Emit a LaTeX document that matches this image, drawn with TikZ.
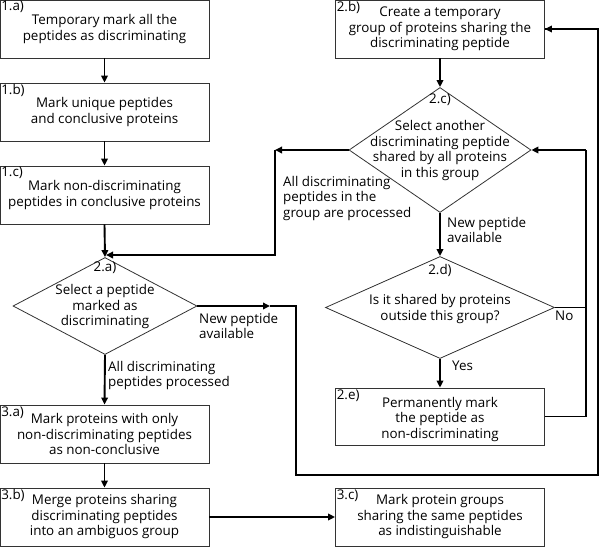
\documentclass[tikz,border=0pt]{standalone}
\usepackage{fontspec}
\setmainfont{Open Sans}
\usetikzlibrary{arrows.meta,shapes.geometric}
\newcommand\myfs{\fontsize{13.4}{15.5}\selectfont}
\begin{document}
\begin{tikzpicture}[x=1pt,y=-1pt,
  box/.style={draw=black!80, line width=0.8pt, minimum width=209pt, minimum height=58pt, inner sep=0pt, align=center, font=\myfs},
  dia/.style={draw=black!80, line width=0.8pt, diamond, inner sep=0pt},
  txt/.style={align=center, font=\myfs, inner sep=0pt},
  ltxt/.style={align=left, font=\myfs, inner sep=0pt, anchor=north west},
  tag/.style={font=\myfs, inner sep=1.5pt, anchor=north west},
  conn/.style={line width=1.9pt, line join=miter},
  arr/.style={conn, -{Triangle[length=7pt,width=6.5pt]}}
]
\useasboundingbox (0,0) rectangle (600,547);

% boxes
\node[box] (b1a) at (104.5,29) {Temporary mark all the\\peptides as discriminating};
\node[box] (b1b) at (104.5,112) {Mark unique peptides\\and conclusive proteins};
\node[box] (b1c) at (104.5,195) {Mark non-discriminating\\peptides in conclusive proteins};
\node[box] (b2b) at (440,29) {Create a temporary\\group of proteins sharing the\\discriminating peptide};
\node[box, minimum height=57pt] (b2e) at (440,416.5) {};
\node[txt] (x2e) at (440,419.5) {Permanently mark\\the peptide as\\non-discriminating};
\node[box] (b3a) at (104.5,434) {Mark proteins with only\\non-discriminating peptides\\as non-conclusive};
\node[box] (b3b) at (104.5,517) {Merge proteins sharing\\discriminating peptides\\into an ambiguos group};
\node[box] (b3c) at (440,517) {Mark protein groups\\sharing the same peptides\\as indistinguishable};

\node[tag] (t1a) at (b1a.north west) {1.a)};
\node[tag] (t1b) at (b1b.north west) {1.b)};
\node[tag] (t1c) at (b1c.north west) {1.c)};
\node[tag] (t2b) at (b2b.north west) {2.b)};
\node[tag] (t2e) at (b2e.north west) {2.e)};
\node[tag] (t3a) at (b3a.north west) {3.a)};
\node[tag] (t3b) at (b3b.north west) {3.b)};
\node[tag] (t3c) at (b3c.north west) {3.c)};

% diamonds
\node[dia, minimum width=184pt, minimum height=97pt] (d2a) at (105,306) {};
\node[dia, minimum width=182pt, minimum height=125pt] (d2c) at (440,150) {};
\node[dia, minimum width=229pt, minimum height=102pt] (d2d) at (440,307.5) {};

\node[txt] (t2a) at (105,268) {2.a)};
\node[txt] (x2a) at (105,307) {Select a peptide\\marked as\\discriminating};
\node[txt] (t2c) at (440,100) {2.c)};
\node[txt] (x2c) at (440,150.5) {Select another\\discriminating peptide\\shared by all proteins\\in this group};
\node[txt] (t2d) at (440,270) {2.d)};
\node[txt] (x2d) at (440,309) {Is it shared by proteins\\outside this group?};

% edge labels
\node[ltxt] (e1) at (199,313) {New peptide\\available};
\node[ltxt] (e2) at (283,176) {All discriminating\\peptides in the\\group are processed};
\node[ltxt] (e3) at (447,217) {New peptide\\available};
\node[ltxt] (e4) at (555,311) {No};
\node[ltxt] (e5) at (452,361) {Yes};
\node[ltxt] (e6) at (108,361) {All discriminating\\peptides processed};

% coordinates
\coordinate (m1) at (270,306);
\coordinate (c1) at (296,306);
\coordinate (c2) at (296,475);
\coordinate (c3) at (598,475);
\coordinate (m2) at (275,150);
\coordinate (c4) at (275,255);
\coordinate (j1) at (106,255);
\coordinate (c5) at (586,307.5);
\coordinate (c6) at (586,150);

% connectors
\draw[arr] (b1a.south) -- (b1b.north);
\draw[arr] (b1b.south) -- (b1c.north);
\draw[arr] (b1c.south) -- (d2a.north);
\draw[arr] (d2a.east) -- (m1);
\draw[conn] (m1) -- (c1) -- (c2) -- (c3) |- (b2b.east);
\draw[arr] (c3 |- b2b.east) -- (b2b.east);
\draw[arr] (b2b.south) -- (d2c.north);
\draw[arr] (d2c.west) -- (m2);
\draw[arr] (m2) -- (c4) -- (j1);
\draw[arr] (d2c.south) -- (d2d.north);
\draw[conn] (d2d.east) -- (c5);
\draw[conn] (b2e.east) -| (c6);
\draw[arr] (c6) -- (d2c.east);
\draw[arr] (d2d.south) -- (b2e.north);
\draw[arr] (d2a.south) -- (b3a.north);
\draw[arr] (b3a.south) -- (b3b.north);
\draw[arr] (b3b.east) -- (b3c.west);
\end{tikzpicture}
\end{document}
